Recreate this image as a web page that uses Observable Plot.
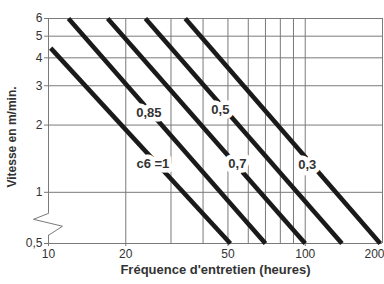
<!DOCTYPE html>
<html>
<head>
<meta charset="utf-8">
<script src="https://cdn.jsdelivr.net/npm/d3@7"></script>
<script src="https://cdn.jsdelivr.net/npm/@observablehq/plot@0.6"></script>
<style>
  html, body { margin: 0; padding: 0; background: #fff; }
</style>
</head>
<body>
<div id="chart"></div>
<script>
// Axis ticks and grid
const xTicks = [10, 20, 50, 100];
const xTickLast = [200];
const xGrid = [20, 30, 40, 50, 60, 70, 80, 90, 100, 200];
const yBottom = 0.59; // where the broken axis shows "0,5"
const yTicks = [yBottom, 1, 2, 3, 4, 5, 6];
const yTickLabels = ["0,5", "1", "2", "3", "4", "5", "6"];
const yGrid = [yBottom, 1, 2, 3, 4, 5, 6];

// Lines (c6 values), endpoints
const series = ["c6 =1", "0,85", "0,7", "0,5", "0,3"];
const startX = [10.2, 11.96, 17, 23.85, 34.1];
const startY = [4.42, 6, 6, 6, 6];
const endX = [51.1, 70, 100, 139, 196];
const endY = [yBottom, yBottom, yBottom, yBottom, yBottom];
const labelX = [25.5, 24.6, 54.4, 46.7, 101.8];
const labelY = [1.348, 2.28, 1.34, 2.33, 1.334];

// Axis break (zigzag on the left edge)
const breakX = [10, 8.74, 11.34, 10];
const breakY = [0.805, 0.757, 0.705, 0.642];

const lines = series.map((s, i) => ({s, x1: startX[i], y1: startY[i], x2: endX[i], y2: endY[i], lx: labelX[i], ly: labelY[i]}));
const zig = breakX.map((x, i) => ({x, y: breakY[i]}));

const grid = "#7a7a7a";
const font = "'Liberation Sans', Arial, Helvetica, sans-serif";

const chart = Plot.plot({
  width: 384,
  height: 284,
  marginTop: 18,
  marginRight: 2,
  marginBottom: 41,
  marginLeft: 48,
  style: {fontFamily: font, fontSize: "12px", background: "#fff", color: "#333"},
  x: {type: "log", domain: [10, 200]},
  y: {type: "log", domain: [yBottom, 6]},
  marks: [
    Plot.ruleX(xGrid, {stroke: grid, strokeWidth: 1}),
    Plot.ruleY(yGrid, {stroke: grid, strokeWidth: 1}),
    Plot.ruleX([10], {y1: breakY[0], y2: 6, stroke: grid, strokeWidth: 1}),
    Plot.ruleX([10], {y1: yBottom, y2: breakY[3], stroke: grid, strokeWidth: 1}),
    Plot.line(zig, {x: "x", y: "y", stroke: grid, strokeWidth: 1}),
    Plot.axisX({ticks: xTicks, tickFormat: d => String(d), tickSize: 3, tickPadding: 3, fontSize: 12, stroke: grid, fill: "#333", label: null}),
    Plot.axisX({ticks: xTickLast, tickFormat: d => String(d), tickSize: 3, tickPadding: 3, fontSize: 12, stroke: grid, fill: "#333", textAnchor: "end", dx: 2, label: null}),
    Plot.axisY({ticks: yTicks, tickFormat: d => yTickLabels[yTicks.indexOf(d)], tickSize: 4, tickPadding: 2, fontSize: 12, stroke: grid, fill: "#333", label: null}),
    Plot.link(lines, {x1: "x1", y1: "y1", x2: "x2", y2: "y2", stroke: "#1a1a1a", strokeWidth: 4.6}),
    Plot.text(lines, {x: "lx", y: "ly", text: "s", fontSize: 13, fontWeight: "bold", fill: "#333", stroke: "white", strokeWidth: 9, strokeLinejoin: "round"}),
    Plot.text(["Fréquence d'entretien (heures)"], {frameAnchor: "bottom", dy: 30, fontSize: 13, fontWeight: "bold", fill: "#333"}),
    Plot.text(["Vitesse en m/min."], {frameAnchor: "left", textAnchor: "middle", dx: -36, dy: 6, rotate: -90, fontSize: 12, fontWeight: "bold", fill: "#333"})
  ]
});
document.getElementById("chart").appendChild(chart);
</script>
</body>
</html>
